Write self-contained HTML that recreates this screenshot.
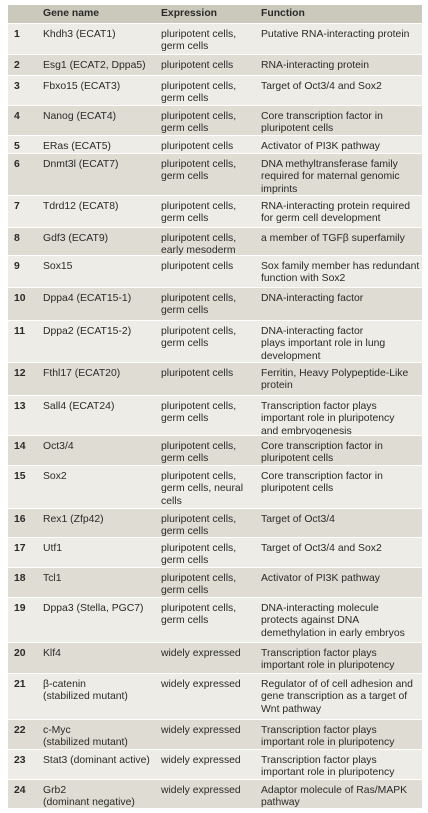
<!DOCTYPE html>
<html><head><meta charset="utf-8"><style>
body{margin:0;width:428px;height:813px;background:#fff;overflow:hidden;font-family:"Liberation Sans",sans-serif;}
.row{position:absolute;left:8px;width:414px;box-sizing:border-box;border-top:1px solid #fff;font-size:10.4px;line-height:12.4px;color:#2a2a2a;}
.row div{position:absolute;top:5px;white-space:nowrap;}
.n{left:6px;font-weight:bold;}
.g{left:35px;}
.e{left:153px;}
.f{left:253px;}
.hd{background:#cbc9bb;font-weight:bold;}
.l{background:#edece6;}
.d{background:#dedcd3;}
</style></head><body>
<div id="t"></div>
<script>
const rows=[
[4,23,"","Gene name","Expression","Function"],
[23,54,"1","Khdh3 (ECAT1)","pluripotent cells,<br>germ cells","Putative RNA-interacting protein"],
[54,75,"2","Esg1 (ECAT2, Dppa5)","pluripotent cells","RNA-interacting protein"],
[75,105,"3","Fbxo15 (ECAT3)","pluripotent cells,<br>germ cells","Target of Oct3/4 and Sox2"],
[105,135,"4","Nanog (ECAT4)","pluripotent cells,<br>germ cells","Core transcription factor in<br>pluripotent cells"],
[135,153,"5","ERas (ECAT5)","pluripotent cells","Activator of PI3K pathway"],
[153,195,"6","Dnmt3l (ECAT7)","pluripotent cells,<br>germ cells","DNA methyltransferase family<br>required for maternal genomic<br>imprints"],
[195,227,"7","Tdrd12 (ECAT8)","pluripotent cells,<br>germ cells","RNA-interacting protein required<br>for germ cell development"],
[227,255,"8","Gdf3 (ECAT9)","pluripotent cells,<br>early mesoderm","a member of TGFβ superfamily"],
[255,287,"9","Sox15","pluripotent cells","Sox family member has redundant<br>function with Sox2"],
[287,320,"10","Dppa4 (ECAT15-1)","pluripotent cells,<br>germ cells","DNA-interacting factor"],
[320,362,"11","Dppa2 (ECAT15-2)","pluripotent cells,<br>germ cells","DNA-interacting factor<br>plays important role in lung<br>development"],
[362,395,"12","Fthl17 (ECAT20)","pluripotent cells","Ferritin, Heavy Polypeptide-Like<br>protein"],
[395,435,"13","Sall4 (ECAT24)","pluripotent cells,<br>germ cells","Transcription factor plays<br>important role in pluripotency<br>and embryogenesis"],
[435,465,"14","Oct3/4","pluripotent cells,<br>germ cells","Core transcription factor in<br>pluripotent cells"],
[465,508,"15","Sox2","pluripotent cells,<br>germ cells, neural<br>cells","Core transcription factor in<br>pluripotent cells"],
[508,537,"16","Rex1 (Zfp42)","pluripotent cells,<br>germ cells","Target of Oct3/4"],
[537,567,"17","Utf1","pluripotent cells,<br>germ cells","Target of Oct3/4 and Sox2"],
[567,597,"18","Tcl1","pluripotent cells,<br>germ cells","Activator of PI3K pathway"],
[597,642,"19","Dppa3 (Stella, PGC7)","pluripotent cells,<br>germ cells","DNA-interacting molecule<br>protects against DNA<br>demethylation in early embryos"],
[642,673,"20","Klf4","widely expressed","Transcription factor plays<br>important role in pluripotency"],
[673,719,"21","β-catenin<br>(stabilized mutant)","widely expressed","Regulator of of cell adhesion and<br>gene transcription as a target of<br>Wnt pathway"],
[719,749,"22","c-Myc<br>(stabilized mutant)","widely expressed","Transcription factor plays<br>important role in pluripotency"],
[749,779,"23","Stat3 (dominant active)","widely expressed","Transcription factor plays<br>important role in pluripotency"],
[779,808,"24","Grb2<br>(dominant negative)","widely expressed","Adaptor molecule of Ras/MAPK<br>pathway"]
];
const t=document.getElementById('t');
rows.forEach((r,i)=>{
 const d=document.createElement('div');
 d.className='row '+(i==0?'hd':(i%2?'l':'d'));
 d.style.top=r[0]+'px';d.style.height=(r[1]-r[0])+'px';
 
 
 d.innerHTML='<div class="n">'+r[2]+'</div><div class="g">'+r[3]+'</div><div class="e">'+r[4]+'</div><div class="f">'+r[5]+'</div>';
 if(i==0){for(const c of d.children)c.style.top='3px';}
 t.appendChild(d);
});
</script>
</body></html>
